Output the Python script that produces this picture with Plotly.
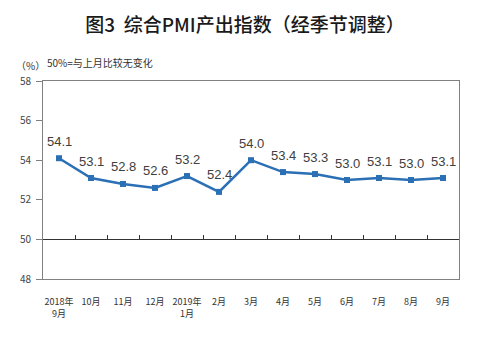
import plotly.graph_objects as go

months = ["2018年<br>9月", "10月", "11月", "12月", "2019年<br>1月", "2月", "3月",
          "4月", "5月", "6月", "7月", "8月", "9月"]
values = [54.1, 53.1, 52.8, 52.6, 53.2, 52.4, 54.0, 53.4, 53.3, 53.0, 53.1, 53.0, 53.1]
y_ticks = [48, 50, 52, 54, 56, 58]

x = list(range(len(months)))
line_color = "#2B6FB5"

fig = go.Figure()
fig.add_trace(go.Scatter(
    x=x, y=values, mode="lines+markers",
    line=dict(color=line_color, width=2.5),
    marker=dict(symbol="square", size=6, color=line_color),
    showlegend=False, hoverinfo="skip",
))
# dummy trace for the 50% reference axis
fig.add_trace(go.Scatter(x=[x[0]], y=[50], xaxis="x2", mode="markers",
                         marker=dict(opacity=0), showlegend=False, hoverinfo="skip"))

for xi, v in zip(x, values):
    fig.add_annotation(x=xi, y=v, text=f"{v:.1f}", showarrow=False, yshift=17,
                       font=dict(family="Liberation Sans, Arial", size=13, color="#404040"))

fig.update_layout(
    width=500, height=352,
    margin=dict(l=43, r=41, t=81, b=73),
    paper_bgcolor="white", plot_bgcolor="white",
    title=dict(text="图3  综合PMI产出指数（经季节调整）", x=0.49, xanchor="center",
               y=0.928, yanchor="middle",
               font=dict(family="Noto Sans CJK SC", size=19, color="#1a1a1a", weight=500)),
    xaxis=dict(range=[-0.5, len(months) - 0.5], tickmode="array", tickvals=x, ticktext=months,
               showgrid=False, zeroline=False, showline=True, linecolor="#808080", linewidth=1,
               mirror=True, ticks="", ticklabelstandoff=14,
               tickfont=dict(family="Noto Sans CJK SC", size=9, color="#333333")),
    xaxis2=dict(overlaying="x", anchor="free", position=0.2, side="bottom",
                range=[-0.5, len(months) - 0.5], tickmode="array",
                tickvals=[i + 0.5 for i in x[:-1]], ticks="inside", ticklen=4,
                tickcolor="#333333", showticklabels=False, showgrid=False, zeroline=False,
                showline=True, linecolor="#333333", linewidth=1),
    yaxis=dict(range=[48, 58], tickmode="array", tickvals=y_ticks, showgrid=False,
               zeroline=False, showline=True, linecolor="#808080", linewidth=1, mirror=True,
               ticks="outside", ticklen=6, tickcolor="#808080", ticklabelstandoff=3,
               tickfont=dict(family="Noto Sans CJK SC", size=10, color="#444444")),
)

fig.add_annotation(xref="paper", yref="paper", x=-0.07, y=1.08, xanchor="left",
                   yanchor="middle", text="（%）", showarrow=False,
                   font=dict(family="Noto Sans CJK SC", size=10, color="#333333"))
fig.add_annotation(xref="paper", yref="paper", x=0.005, y=1.095, xanchor="left",
                   yanchor="middle", text="50%=与上月比较无变化", showarrow=False,
                   font=dict(family="Noto Sans CJK SC", size=10, color="#333333"))

fig.write_html("out.html")
